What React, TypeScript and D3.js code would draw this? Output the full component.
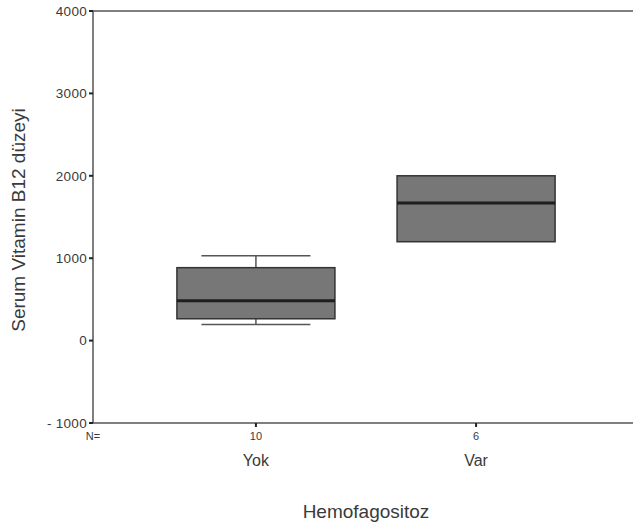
import { useMemo } from 'react';
import * as d3 from 'd3';

// Box plot values (Serum Vitamin B12, by Hemofagositoz group)
const categories = ['Yok', 'Var'];
const counts = [10, 6];
const whiskerLow = [195, 1200];
const q1 = [265, 1200];
const medians = [485, 1670];
const q3 = [885, 2000];
const whiskerHigh = [1030, 2000];
const yTicks = [-1000, 0, 1000, 2000, 3000, 4000];

const W = 633;
const H = 526;
const FONT = '"Liberation Sans", Arial, sans-serif';
const TEXT = '#3a3a3a';

export default function App() {
	const margin = { left: 93, top: 11, right: -6, bottom: 103 };

	const x = useMemo(
		() =>
			d3
				.scalePoint<string>()
				.domain(categories)
				.range([margin.left, W - margin.right])
				.padding(0.74),
		[]
	);

	const y = useMemo(
		() => d3.scaleLinear().domain([-1000, 4000]).range([H - margin.bottom, margin.top]),
		[]
	);

	const boxW = 158;
	const capW = 109;

	return (
		<svg
			width={W}
			height={H}
			style={{ position: 'absolute', left: 0, top: 0, background: '#fff' }}
			fontFamily={FONT}
		>
			<rect width={W} height={H} fill="#fff" />

			{/* frame: left axis, top line, bottom axis */}
			<line x1={margin.left} x2={margin.left} y1={y(4000)} y2={y(-1000)} stroke="#555" strokeWidth={1.5} />
			<line x1={margin.left} x2={W} y1={y(4000)} y2={y(4000)} stroke="#555" strokeWidth={1.5} />
			<line x1={margin.left} x2={W} y1={y(-1000)} y2={y(-1000)} stroke="#555" strokeWidth={1.5} />

			{/* y ticks */}
			{yTicks.map((t) => (
				<g key={t} transform={`translate(0,${y(t)})`}>
					<line x1={margin.left - 4} x2={margin.left} stroke="#222" strokeWidth={2} />
					<text
						x={margin.left - 6}
						dy="0.35em"
						textAnchor="end"
						fontSize={13.5}
						fill={TEXT}
						letterSpacing={0.3}
					>
						{t === -1000 ? '- 1000' : t}
					</text>
				</g>
			))}

			{/* boxes */}
			{categories.map((c, i) => {
				const cx = x(c) as number;
				return (
					<g key={c}>
						<line x1={cx} x2={cx} y1={y(whiskerHigh[i])} y2={y(q3[i])} stroke="#555" strokeWidth={1.5} />
						<line x1={cx} x2={cx} y1={y(q1[i])} y2={y(whiskerLow[i])} stroke="#555" strokeWidth={1.5} />
						{whiskerHigh[i] > q3[i] && (
							<line
								x1={cx - capW / 2}
								x2={cx + capW / 2}
								y1={y(whiskerHigh[i])}
								y2={y(whiskerHigh[i])}
								stroke="#555"
								strokeWidth={1.5}
							/>
						)}
						{whiskerLow[i] < q1[i] && (
							<line
								x1={cx - capW / 2}
								x2={cx + capW / 2}
								y1={y(whiskerLow[i])}
								y2={y(whiskerLow[i])}
								stroke="#555"
								strokeWidth={1.5}
							/>
						)}
						<rect
							x={cx - boxW / 2}
							y={y(q3[i])}
							width={boxW}
							height={y(q1[i]) - y(q3[i])}
							fill="#777"
							stroke="#333"
							strokeWidth={1.5}
						/>
						<line
							x1={cx - boxW / 2}
							x2={cx + boxW / 2}
							y1={y(medians[i])}
							y2={y(medians[i])}
							stroke="#1e1e1e"
							strokeWidth={3}
						/>
						{/* x tick */}
						<line x1={cx} x2={cx} y1={y(-1000)} y2={y(-1000) + 4} stroke="#222" strokeWidth={2} />
						<text x={cx} y={y(-1000) + 17} textAnchor="middle" fontSize={11} fill={TEXT}>
							{counts[i]}
						</text>
						<text x={cx} y={y(-1000) + 43} textAnchor="middle" fontSize={16} fill={TEXT}>
							{c}
						</text>
					</g>
				);
			})}

			<text x={margin.left} y={y(-1000) + 17} textAnchor="middle" fontSize={11} fill={TEXT}>
				N=
			</text>

			{/* axis titles */}
			<text x={366} y={518} textAnchor="middle" fontSize={19} fill={TEXT}>
				Hemofagositoz
			</text>
			<text
				transform={`translate(25,${(y(4000) + y(-1000)) / 2 + 3}) rotate(-90)`}
				textAnchor="middle"
				fontSize={19}
				fill={TEXT}
			>
				Serum Vitamin B12 düzeyi
			</text>
		</svg>
	);
}
